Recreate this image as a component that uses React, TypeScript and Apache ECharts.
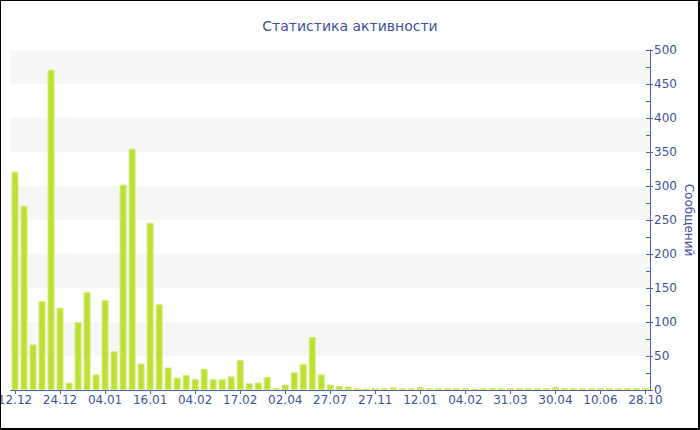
import React, { useEffect, useRef } from "react";
import * as echarts from "echarts";

const categories: string[] = [
  "12.12", "14.12", "17.12", "19.12", "22.12",
  "24.12", "26.12", "28.12", "30.12", "02.01",
  "04.01", "06.01", "09.01", "11.01", "13.01",
  "16.01", "19.01", "23.01", "27.01", "31.01",
  "04.02", "07.02", "10.02", "13.02", "15.02",
  "17.02", "22.02", "01.03", "12.03", "21.03",
  "02.04", "18.04", "07.05", "30.05", "26.06",
  "27.07", "19.08", "14.09", "11.10", "03.11",
  "27.11", "14.12", "22.12", "29.12", "05.01",
  "12.01", "17.01", "21.01", "26.01", "30.01",
  "04.02", "15.02", "27.02", "10.03", "20.03",
  "31.03", "07.04", "13.04", "19.04", "25.04",
  "30.04", "09.05", "18.05", "26.05", "03.06",
  "10.06", "07.07", "05.08", "02.09", "30.09",
  "28.10",
];

const messages: number[] = [
  321, 271, 67, 131, 471, 121, 11, 100, 144, 23,
  132, 57, 302, 355, 39, 246, 126, 33, 18, 22,
  16, 31, 16, 16, 20, 44, 10, 11, 19, 3,
  8, 26, 38, 78, 23, 8, 6, 5, 3, 2,
  3, 3, 4, 3, 3, 4, 3, 3, 3, 3,
  3, 2, 3, 3, 3, 3, 3, 3, 3, 3,
  4, 3, 3, 3, 3, 3, 3, 3, 3, 3,
  3,
];

const TITLE = "Статистика активности";
const Y_NAME = "Сообщений";

const BLUE = "#3d519b";
const AXIS = "#4f61a8";
const FONT = "DejaVu Sans";

export default function App() {
  const ref = useRef<HTMLDivElement>(null);

  useEffect(() => {
    document.body.style.margin = "0";
    if (!ref.current) return;
    const chart = echarts.init(ref.current, undefined, { renderer: "svg" });
    chart.setOption({
      animation: false,
      backgroundColor: "#ffffff",
      title: {
        text: TITLE,
        left: "center",
        top: 14,
        textStyle: { color: BLUE, fontFamily: FONT, fontSize: 14, fontWeight: "normal" },
      },
      grid: { left: 10.5, right: 50, top: 50, bottom: 40, containLabel: false, outerBoundsMode: "none" },
      xAxis: {
        type: "category",
        data: categories,
        boundaryGap: true,
        axisLine: { show: true, lineStyle: { color: AXIS, width: 1 } },
        axisTick: { show: true, alignWithLabel: true, interval: 4, length: 4, lineStyle: { color: AXIS } },
        axisLabel: { interval: 4, color: BLUE, fontFamily: FONT, fontSize: 12, margin: 4 },
        splitLine: { show: false },
      },
      yAxis: [
        {
          type: "value",
          position: "right",
          min: 0,
          max: 500,
          interval: 50,
          name: Y_NAME,
          nameLocation: "middle",
          nameRotate: -90,
          nameGap: 33,
          nameMoveOverlap: false,
          nameTextStyle: { color: BLUE, fontFamily: FONT, fontSize: 12 },
          axisLine: { show: true, lineStyle: { color: AXIS, width: 1 } },
          axisTick: { show: true, inside: false, length: 3, lineStyle: { color: AXIS } },
          axisLabel: { color: BLUE, fontFamily: FONT, fontSize: 12, margin: 4 },
          splitLine: { show: false },
          splitArea: { show: true, areaStyle: { color: ["#ffffff", "#f7f7f7"] } },
        },
        {
          type: "value",
          position: "right",
          min: 0,
          max: 500,
          interval: 50,
          axisLine: { show: false },
          axisTick: { show: true, inside: true, length: 4, lineStyle: { color: AXIS } },
          minorTick: { show: true, splitNumber: 2, length: 4, lineStyle: { color: AXIS } },
          axisLabel: { show: false },
          splitLine: { show: false },
          splitArea: { show: false },
        },
      ],
      series: [
        {
          type: "bar",
          data: messages,
          yAxisIndex: 0,
          barCategoryGap: "22%",
          itemStyle: { color: "#bde133", borderColor: "#d4ec7c", borderWidth: 1 },
        },
      ],
    });
    return () => chart.dispose();
  }, []);

  return (
    <div style={{ position: "fixed", left: 0, top: 0, width: 700, height: 430 }}>
      <div ref={ref} style={{ position: "absolute", left: 0, top: 0, width: 700, height: 430 }} />
      <div
        style={{
          position: "absolute",
          left: 0,
          top: 0,
          width: 700,
          height: 430,
          boxSizing: "border-box",
          borderLeft: "1px solid #000",
          borderTop: "1px solid #000",
          borderRight: "2px solid #000",
          borderBottom: "2px solid #000",
          pointerEvents: "none",
        }}
      />
    </div>
  );
}
